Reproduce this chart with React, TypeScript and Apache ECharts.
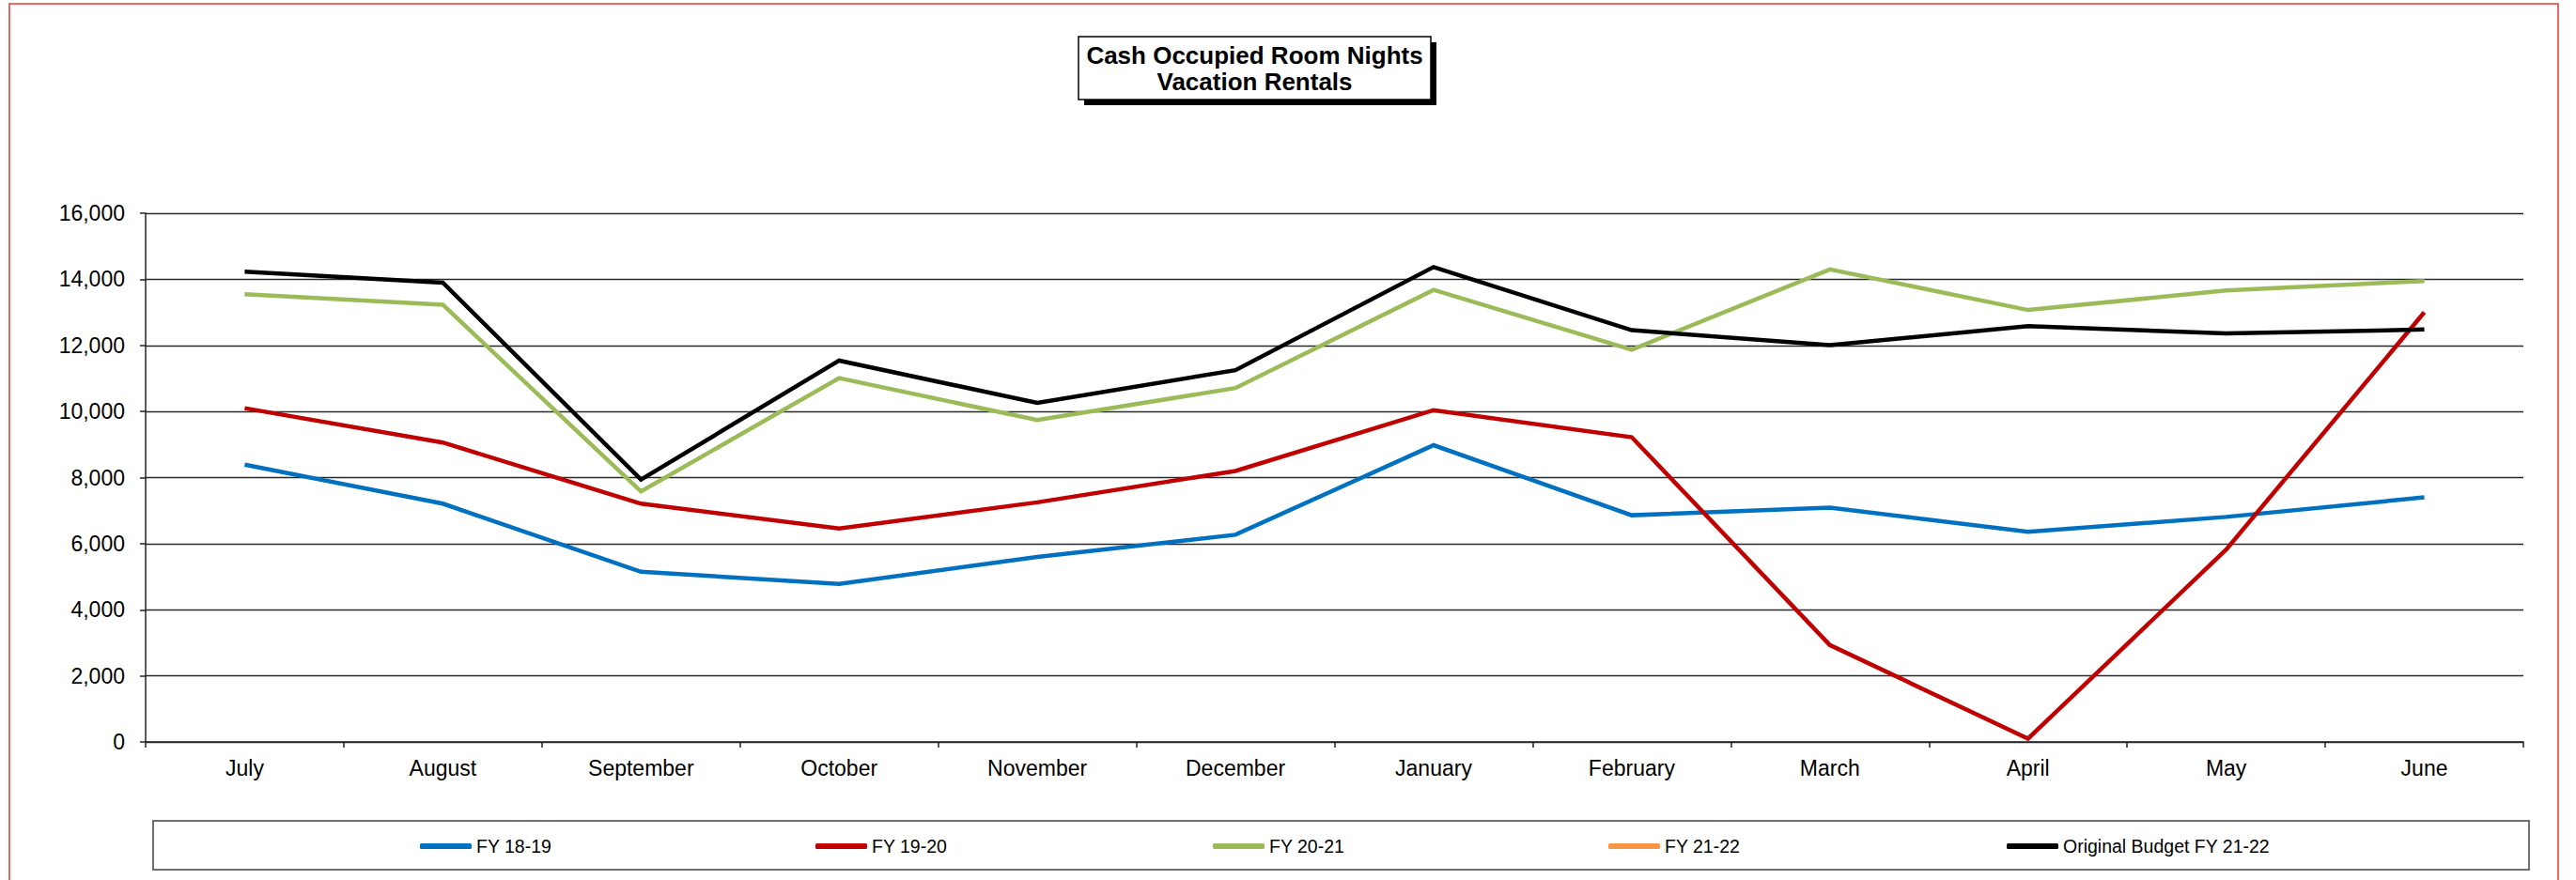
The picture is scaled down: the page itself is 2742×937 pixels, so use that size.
import React, { useEffect, useRef } from "react";
import * as echarts from "echarts";

const categories = ["July", "August", "September", "October", "November", "December", "January", "February", "March", "April", "May", "June"];
const fy1819 = [8390, 7210, 5150, 4780, 5600, 6270, 8980, 6860, 7090, 6360, 6810, 7400];
const fy1920 = [10100, 9060, 7210, 6460, 7250, 8200, 10040, 9220, 2930, 100, 5820, 13000];
const fy2021 = [13550, 13230, 7580, 11010, 9740, 10710, 13680, 11870, 14300, 13070, 13660, 13950];
const fy2122: (number | null)[] = [null, null, null, null, null, null, null, null, null, null, null, null];
const budget2122 = [14230, 13900, 7940, 11540, 10260, 11250, 14370, 12460, 12010, 12580, 12360, 12480];

const seriesNames = ["FY 18-19", "FY 19-20", "FY 20-21", "FY 21-22", "Original Budget FY 21-22"];
const seriesColors = ["#0070C0", "#C00000", "#9BBB59", "#F79646", "#000000"];
const seriesData = [fy1819, fy1920, fy2021, fy2122, budget2122];
const legendLefts = [447, 868, 1291, 1712, 2136];

const FONT = "'Liberation Sans', Arial, sans-serif";

export default function App() {
  const ref = useRef<HTMLDivElement>(null);
  useEffect(() => {
    if (!ref.current) return;
    const chart = echarts.init(ref.current, null, { renderer: "svg" });
    const option: any = {
      animation: false,
      backgroundColor: "#ffffff",
      textStyle: { fontFamily: FONT },
      grid: { left: 155, right: 56, top: 227, bottom: 147, containLabel: false },
      xAxis: {
        type: "category",
        data: categories,
        boundaryGap: true,
        axisLine: { show: true, lineStyle: { color: "#222222", width: 1.5 } },
        axisTick: { show: true, length: 6, interval: 0, lineStyle: { color: "#222222", width: 1.5 } },
        axisLabel: { color: "#000000", fontSize: 23, margin: 16, interval: 0, fontFamily: FONT },
        splitLine: { show: false },
      },
      yAxis: {
        type: "value",
        min: 0,
        max: 16000,
        interval: 2000,
        axisLine: { show: true, lineStyle: { color: "#222222", width: 1.5 } },
        axisTick: { show: true, length: 6, lineStyle: { color: "#222222", width: 1.5 } },
        axisLabel: {
          color: "#000000",
          fontSize: 23,
          margin: 22,
          fontFamily: FONT,
          formatter: (v: number) => v.toLocaleString("en-US"),
        },
        splitLine: { show: true, lineStyle: { color: "#2a2a2a", width: 1.3 } },
      },
      legend: seriesNames.map((name, i) => ({
        data: [name],
        left: legendLefts[i],
        top: 891,
        padding: 0,
        itemWidth: 55,
        itemHeight: 6,
        icon: "roundRect",
        selectedMode: false,
        textStyle: { color: "#000000", fontSize: 19.5, lineHeight: 20, fontFamily: FONT },
      })),
      series: seriesNames.map((name, i) => ({
        name,
        type: "line",
        data: seriesData[i],
        symbol: "none",
        color: seriesColors[i],
        itemStyle: { color: seriesColors[i] },
        lineStyle: { color: seriesColors[i], width: 4.5, join: "miter" },
        connectNulls: false,
      })),
      graphic: [
        {
          type: "rect",
          shape: { x: 10, y: 4, width: 2713, height: 1000 },
          style: { fill: "none", stroke: "#E53935", lineWidth: 1.5 },
          silent: true,
        },
        {
          type: "rect",
          shape: { x: 163, y: 874, width: 2529, height: 52 },
          style: { fill: "#ffffff", stroke: "#6f6f6f", lineWidth: 2 },
          z: -1,
          silent: true,
        },
        {
          type: "rect",
          shape: { x: 1154, y: 45, width: 375, height: 67 },
          style: { fill: "#000000" },
          silent: true,
        },
        {
          type: "rect",
          shape: { x: 1148, y: 39, width: 375, height: 67 },
          style: { fill: "#ffffff", stroke: "#000000", lineWidth: 1.5 },
          silent: true,
        },
        {
          type: "text",
          x: 1335.5,
          y: 72.5,
          style: {
            text: "Cash Occupied Room Nights\nVacation Rentals",
            fill: "#000000",
            font: "bold 26px 'Liberation Sans', Arial, sans-serif",
            lineHeight: 28,
            align: "center",
            verticalAlign: "middle",
          },
          silent: true,
        },
      ],
    };
    chart.setOption(option);
    return () => chart.dispose();
  }, []);
  return (
    <div
      ref={ref}
      style={{ position: "fixed", left: 0, top: 0, width: 2742, height: 937, background: "#fff" }}
    />
  );
}
